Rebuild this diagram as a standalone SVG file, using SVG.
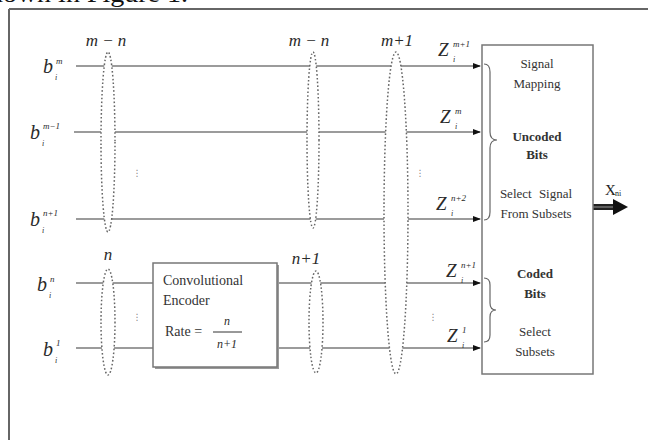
<svg xmlns="http://www.w3.org/2000/svg" width="648" height="440" viewBox="0 0 648 440">
<style>
.ln{stroke:#7a7a7a;stroke-width:1.7;fill:none}
.el{stroke:#666;stroke-width:1.5;stroke-dasharray:1.6 2.2;fill:#fff}
.m{font-family:"Liberation Serif",serif;font-style:italic;fill:#2a2a2a}
.t{font-family:"Liberation Serif",serif;fill:#333;font-size:13px;text-anchor:middle}
.b{font-weight:bold}
.dots{font-family:"DejaVu Sans",sans-serif;font-size:9px;fill:#888;text-anchor:middle}
.box{fill:#fff;stroke:#777;stroke-width:1.5}
</style>
<defs>
<marker id="ah" markerWidth="8" markerHeight="8" refX="7" refY="4" orient="auto" markerUnits="userSpaceOnUse">
<path d="M0,1 L8,4 L0,7 Z" fill="#111"/>
</marker>
</defs>
<rect width="648" height="440" fill="#fff"/>
<text x="-22" y="2" font-family="Liberation Serif, serif" font-size="26" fill="#111" textLength="210" lengthAdjust="spacingAndGlyphs">shown in Figure 1.</text>
<path d="M9,9 H648 M9,9 V440" stroke="#666" stroke-width="2" fill="none"/>

<g id="connectors">
<line class="ln" x1="76" y1="66" x2="480" y2="66" marker-end="url(#ah)"/>
<line class="ln" x1="74" y1="132" x2="480" y2="132" marker-end="url(#ah)"/>
<line class="ln" x1="76" y1="219" x2="480" y2="219" marker-end="url(#ah)"/>
<line class="ln" x1="76" y1="283" x2="153" y2="283"/>
<line class="ln" x1="76" y1="348" x2="153" y2="348"/>
<line class="ln" x1="277" y1="283" x2="480" y2="283" marker-end="url(#ah)"/>
<line class="ln" x1="277" y1="348" x2="480" y2="348" marker-end="url(#ah)"/>
<path d="M593,207 H616" stroke="#222" stroke-width="6"/>
<path d="M593,207 H616" stroke="#888" stroke-width="1.2"/>
<path d="M613,199 L628,207 L613,215 Z" fill="#111"/>
</g>

<g id="groups">
<ellipse class="el" cx="108" cy="142" rx="7" ry="90"/>
<ellipse class="el" cx="313" cy="140" rx="6" ry="88"/>
<ellipse class="el" cx="396" cy="213" rx="12" ry="161"/>
<ellipse class="el" cx="108" cy="322" rx="7" ry="53"/>
<ellipse class="el" cx="316" cy="322" rx="7" ry="51"/>
<text class="m" x="106" y="46" font-size="17" text-anchor="middle">m − n</text>
<text class="m" x="309" y="46" font-size="17" text-anchor="middle">m − n</text>
<text class="m" x="397" y="46" font-size="17" text-anchor="middle">m+1</text>
<text class="m" x="108" y="260" font-size="17" text-anchor="middle">n</text>
<text class="m" x="306" y="264" font-size="17" text-anchor="middle">n+1</text>
<text class="dots" x="137" y="176">⋮</text>
<text class="dots" x="137" y="320">⋮</text>
<text class="dots" x="420" y="176">⋮</text>
<text class="dots" x="433" y="320">⋮</text>
</g>

<g id="inputs">
<text class="m" x="43" y="73" font-size="20">b</text><text class="m" x="56" y="64" font-size="9">m</text><text class="m" x="55" y="80" font-size="8">i</text>
<text class="m" x="30" y="139" font-size="20">b</text><text class="m" x="43" y="129" font-size="9">m−1</text><text class="m" x="42" y="146" font-size="8">i</text>
<text class="m" x="30" y="226" font-size="20">b</text><text class="m" x="43" y="216" font-size="9">n+1</text><text class="m" x="42" y="233" font-size="8">i</text>
<text class="m" x="37" y="291" font-size="20">b</text><text class="m" x="50" y="282" font-size="9">n</text><text class="m" x="49" y="298" font-size="8">i</text>
<text class="m" x="43" y="356" font-size="20">b</text><text class="m" x="56" y="346" font-size="9">1</text><text class="m" x="55" y="363" font-size="8">i</text>
</g>

<g id="outputs">
<text class="m" x="438" y="56" font-size="19">Z</text><text class="m" x="453" y="47" font-size="9">m+1</text><text class="m" x="453" y="62" font-size="8">i</text>
<text class="m" x="440" y="123" font-size="19">Z</text><text class="m" x="455" y="114" font-size="9">m</text><text class="m" x="455" y="129" font-size="8">i</text>
<text class="m" x="436" y="210" font-size="19">Z</text><text class="m" x="451" y="201" font-size="9">n+2</text><text class="m" x="451" y="216" font-size="8">i</text>
<text class="m" x="446" y="277" font-size="19">Z</text><text class="m" x="461" y="268" font-size="9">n+1</text><text class="m" x="461" y="283" font-size="8">i</text>
<text class="m" x="447" y="342" font-size="19">Z</text><text class="m" x="462" y="333" font-size="9">1</text><text class="m" x="462" y="348" font-size="8">i</text>
</g>

<g id="encoder">
<rect x="155" y="265" width="124" height="104" fill="#999"/>
<rect class="box" x="153" y="263" width="124" height="104"/>
<text x="163" y="285" font-family="Liberation Serif, serif" font-size="14" fill="#333">Convolutional</text>
<text x="163" y="305" font-family="Liberation Serif, serif" font-size="14" fill="#333">Encoder</text>
<text x="165" y="336" font-family="Liberation Serif, serif" font-size="14" fill="#333">Rate =</text>
<text class="m" x="227" y="325" font-size="12" text-anchor="middle">n</text>
<line x1="213" y1="332" x2="242" y2="332" stroke="#333" stroke-width="1"/>
<text class="m" x="227" y="348" font-size="12" text-anchor="middle">n+1</text>
</g>

<g id="mapper">
<rect class="box" x="482" y="45" width="111" height="329"/>
<path d="M484,64 Q490,64 490,72 L490,132 Q490,140 497,140 Q490,140 490,148 L490,212 Q490,220 484,220" stroke="#666" stroke-width="1.2" fill="none"/>
<path d="M484,278 Q490,278 490,285 L490,303 Q490,310 496,310 Q490,310 490,317 L490,335 Q490,342 484,342" stroke="#666" stroke-width="1.2" fill="none"/>
<text class="t" x="537" y="68">Signal</text>
<text class="t" x="537" y="88">Mapping</text>
<text class="t b" x="537" y="141">Uncoded</text>
<text class="t b" x="537" y="159">Bits</text>
<text class="t" x="536" y="198" word-spacing="4">Select Signal</text>
<text class="t" x="536" y="218">From Subsets</text>
<text class="t b" x="535" y="278">Coded</text>
<text class="t b" x="535" y="298">Bits</text>
<text class="t" x="535" y="336">Select</text>
<text class="t" x="535" y="356">Subsets</text>
<text x="605" y="195" font-family="Liberation Serif, serif" font-size="15" fill="#222">X</text>
<text x="615" y="196" font-family="Liberation Serif, serif" font-size="8" fill="#222">ni</text>
</g>
</svg>
